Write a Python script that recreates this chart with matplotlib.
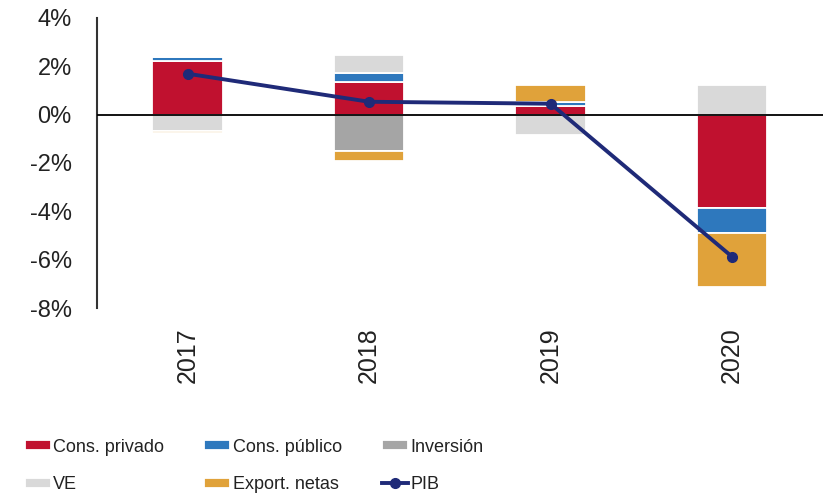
import matplotlib.pyplot as plt
import numpy as np

plt.rcParams['font.family'] = ['Liberation Sans', 'DejaVu Sans']

years = ['2017', '2018', '2019', '2020']
cons_privado = [2.20, 1.36, 0.36, -3.88]
cons_publico = [0.20, 0.38, 0.14, -1.03]
inversion = [0.0, -1.49, 0.0, 0.0]
ve = [-0.66, 0.73, -0.86, 1.24]
export_netas = [-0.12, -0.45, 0.74, -2.24]
pib = [1.69, 0.53, 0.45, -5.88]

series = [
    ('Cons. privado', cons_privado, '#C0112F'),
    ('Cons. público', cons_publico, '#2E78BD'),
    ('Inversión', inversion, '#A5A5A5'),
    ('VE', ve, '#D9D9D9'),
    ('Export. netas', export_netas, '#E0A23A'),
]

fig = plt.figure(figsize=(8.27, 4.96), dpi=100)
ax = fig.add_axes([0.117, 0.379, 0.878, 0.585])

x = np.arange(len(years))
pos_base = np.zeros(len(years))
neg_base = np.zeros(len(years))
handles = {}
for name, vals, color in series:
    vals = np.array(vals)
    bottom = np.where(vals >= 0, pos_base, neg_base)
    b = ax.bar(x, vals, 0.39, bottom=bottom, color=color,
               edgecolor='white', linewidth=1.3, label=name)
    handles[name] = b
    pos_base += np.where(vals >= 0, vals, 0)
    neg_base += np.where(vals < 0, vals, 0)

line, = ax.plot(x, pib, color='#1F2A78', lw=2.8, marker='o', markersize=7,
                label='PIB', zorder=5)
ax.axhline(0, color='black', lw=1.3, zorder=4)

ax.set_xlim(-0.5, 3.5)
ax.set_ylim(-8, 4)
ax.set_yticks(np.arange(-8, 5, 2))
ax.set_yticklabels([f'{v}%' for v in range(-8, 5, 2)], fontsize=17, color='#222222')
ax.set_xticks(x)
ax.set_xticklabels(years, rotation=90, fontsize=18, color='#222222')
ax.tick_params(axis='y', length=0, pad=18)
ax.tick_params(axis='x', length=0, pad=14)
for s in ['top', 'right', 'bottom']:
    ax.spines[s].set_visible(False)
ax.spines['left'].set_color('#333333')
ax.spines['left'].set_linewidth(1.5)

# column-first order so rows read: privado/público/inversión, VE/export/PIB
h = [handles['Cons. privado'], handles['VE'], handles['Cons. público'],
     handles['Export. netas'], handles['Inversión'], line]
labels = ['Cons. privado', 'VE', 'Cons. público', 'Export. netas', 'Inversión', 'PIB']
leg = fig.legend(h, labels, ncol=3, loc='lower left', bbox_to_anchor=(0.01, -0.027),
                 frameon=False, fontsize=13, handlelength=1.45, handleheight=0.5,
                 handletextpad=0.15, columnspacing=2.2, labelspacing=1.13)
for t in leg.get_texts():
    t.set_color('#222222')

fig.savefig('out.png', dpi=100)
